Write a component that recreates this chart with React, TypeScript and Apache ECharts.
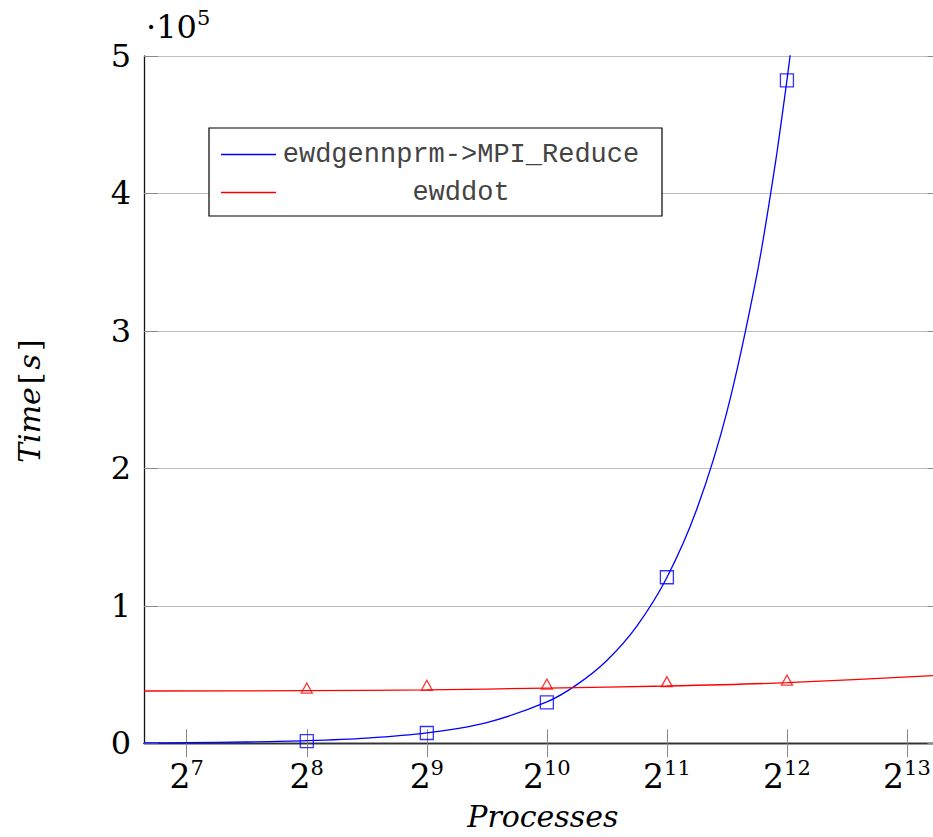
import React, { useEffect, useRef } from 'react';
import * as echarts from 'echarts';

// Measured markers
const processes = [256, 512, 1024, 2048, 4096];
const reduceTimes = [1600, 7500, 29800, 120800, 482300];
const dotTimes = [40200, 42200, 43100, 44800, 46000];

// Fit curves
const reduceFitX = [100, 128, 181, 256, 362, 512, 724, 1024, 1218, 1448, 1722, 2048, 2436, 2896, 3444, 3822, 4096, 4200];
const reduceFitY = [290, 470, 940, 1880, 3770, 7540, 15100, 30100, 42700, 60300, 85300, 120600, 170600, 241100, 341000, 420000, 482300, 507000];
const dotFitX = [100, 256, 512, 1024, 2048, 4096, 10000];
const dotFitY = [38050, 38300, 38800, 40200, 41700, 44100, 49500];

const xTickValues = [128, 256, 512, 1024, 2048, 4096, 8192];
const xTickExponents = ['7', '8', '9', '10', '11', '12', '13'];
const yScaleFactor = 100000;

const seriesNames = ['ewdgennprm->MPI_Reduce', 'ewddot'];

const SERIF = '"DejaVu Serif", serif';
const MONO = '"Liberation Mono", monospace';

export default function App() {
  const ref = useRef<HTMLDivElement>(null);
  useEffect(() => {
    if (!ref.current) return;
    const chart = echarts.init(ref.current, undefined, { renderer: 'svg' });
    const pairs = (xs: number[], ys: number[]) => xs.map((x, i) => [x, ys[i]]);
    const xAxisBase = {
      type: 'log' as const,
      logBase: 2,
      min: 100,
      max: 10000,
      splitLine: { show: false },
      axisLine: { show: true, lineStyle: { color: '#111', width: 1.3 } },
    };
    chart.setOption({
      animation: false,
      backgroundColor: '#fff',
      grid: { left: 144, top: 56, width: 797.5, height: 687.3, containLabel: false },
      xAxis: [
        {
          ...xAxisBase,
          position: 'bottom',
          name: 'Processes',
          nameLocation: 'middle',
          nameGap: 58,
          nameTextStyle: { fontFamily: SERIF, fontStyle: 'italic', fontSize: 30, color: '#000', letterSpacing: 2 } as any,
          axisTick: { show: true, inside: true, length: 14, lineStyle: { color: '#888', width: 1 }, customValues: xTickValues },
          axisLabel: {
            customValues: xTickValues,
            margin: 14,
            formatter: (v: number) => {
              const i = xTickValues.indexOf(Math.round(v));
              return '{b|2}{s|' + (i >= 0 ? xTickExponents[i] : '') + '}';
            },
            rich: {
              b: { fontFamily: SERIF, fontSize: 33, color: '#000', lineHeight: 38 },
              s: { fontFamily: SERIF, fontSize: 21, color: '#000', lineHeight: 22, verticalAlign: 'top' },
            },
          },
        },
        {
          ...xAxisBase,
          position: 'top',
          axisLine: { show: true, lineStyle: { color: '#333', width: 1.3 } },
          axisTick: { show: true, inside: true, length: 14, lineStyle: { color: '#888', width: 1 }, customValues: xTickValues },
          axisLabel: { show: false },
        },
      ],
      yAxis: [
        {
          type: 'value',
          min: 0,
          max: 500000,
          interval: 100000,
          position: 'left',
          name: '{i|Time}{u|[}{i|s}{u|]}',
          nameLocation: 'middle',
          nameGap: 100,
          nameTextStyle: {
            rich: {
              i: { fontFamily: SERIF, fontStyle: 'italic', fontSize: 30, color: '#000', letterSpacing: 4 },
              u: { fontFamily: SERIF, fontSize: 30, color: '#000', padding: [0, 3, 0, 3] },
            },
          },
          axisLine: { show: true, lineStyle: { color: '#111', width: 1.3 } },
          axisTick: { show: true, inside: true, length: 14, lineStyle: { color: '#888' } },
          splitLine: { show: true, lineStyle: { color: '#bdbdbd', width: 1 } },
          axisLabel: {
            margin: 13,
            fontFamily: SERIF,
            fontSize: 32,
            color: '#000',
            formatter: (v: number) => String(v / yScaleFactor),
          },
        },
        {
          type: 'value',
          min: 0,
          max: 500000,
          interval: 100000,
          position: 'right',
          axisLine: { show: true, lineStyle: { color: '#333', width: 1.3 } },
          axisTick: { show: true, inside: true, length: 14, lineStyle: { color: '#888' } },
          splitLine: { show: false },
          axisLabel: { show: false },
        },
      ],
      legend: {
        data: seriesNames.map((n) => ({ name: n, icon: 'rect' })),
        orient: 'vertical',
        left: 209,
        top: 128,
        padding: [13, 21, 10, 12],
        itemGap: 11,
        itemWidth: 55,
        itemHeight: 1.5,
        borderColor: '#000',
        borderWidth: 1.2,
        backgroundColor: '#fff',
        formatter: (name: string) => '{t|' + name + '}',
        textStyle: {
          rich: {
            t: { fontFamily: MONO, fontSize: 27, color: '#444', width: 360, align: 'center', lineHeight: 30 },
          },
        },
      },
      graphic: [
        {
          type: 'text',
          left: 146,
          top: 7,
          style: {
            text: '{d|·10}{s|5}',
            rich: {
              d: { fontFamily: SERIF, fontSize: 32, fill: '#000', lineHeight: 40 },
              s: { fontFamily: SERIF, fontSize: 21, fill: '#000', lineHeight: 24, verticalAlign: 'top' },
            },
          },
        },
      ],
      series: [
        {
          name: seriesNames[0],
          type: 'line',
          data: pairs(reduceFitX, reduceFitY),
          smooth: 0.3,
          showSymbol: false,
          color: '#0000ff',
          lineStyle: { color: '#0000ff', width: 1.3 },
          clip: true,
          z: 2,
        },
        {
          name: 'reduce-marks',
          type: 'scatter',
          data: pairs(processes, reduceTimes),
          symbol: 'rect',
          symbolSize: 13,
          itemStyle: { color: 'rgba(0,0,0,0)', borderColor: '#0000ff', borderWidth: 1.3 },
          z: 3,
        },
        {
          name: seriesNames[1],
          type: 'line',
          data: pairs(dotFitX, dotFitY),
          smooth: 0.3,
          showSymbol: false,
          color: '#ff0000',
          lineStyle: { color: '#ff0000', width: 1.3 },
          clip: true,
          z: 2,
        },
        {
          name: 'dot-marks',
          type: 'scatter',
          data: pairs(processes, dotTimes),
          symbol: 'triangle',
          symbolSize: [11, 10],
          itemStyle: { color: 'rgba(0,0,0,0)', borderColor: '#ff0000', borderWidth: 1.3 },
          z: 3,
        },
      ],
    } as any);
    return () => chart.dispose();
  }, []);
  return (
    <div style={{ position: 'fixed', left: 0, top: 0, width: 933, height: 837, overflow: 'hidden', background: '#fff' }}>
      <div ref={ref} style={{ width: 960, height: 837 }} />
    </div>
  );
}
